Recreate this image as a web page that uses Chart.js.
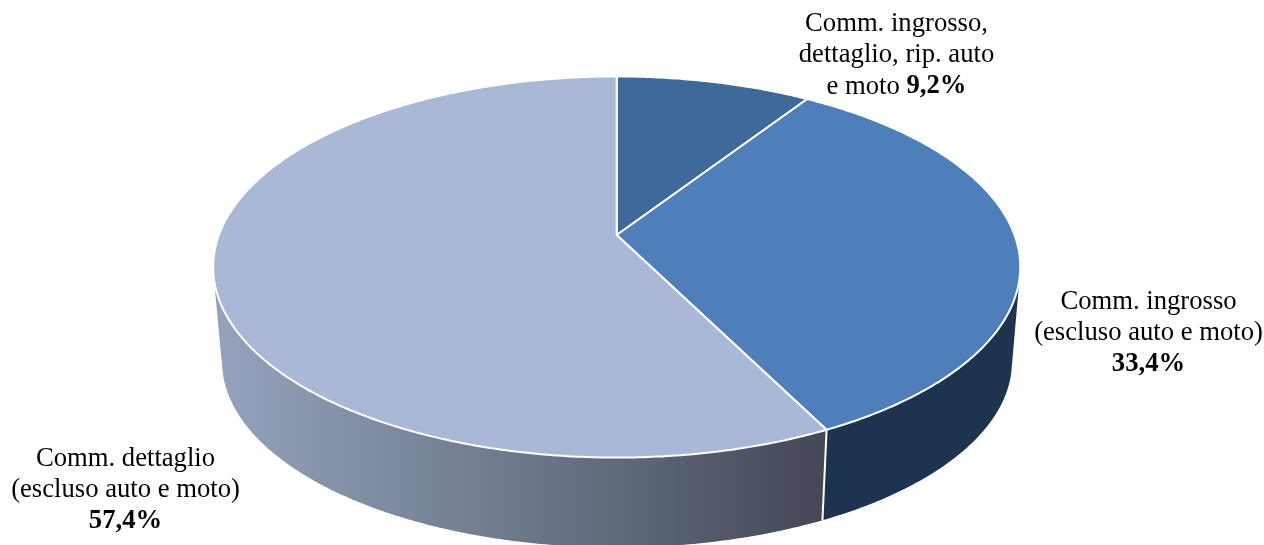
<!DOCTYPE html>
<html>
<head>
<meta charset="utf-8">
<title>Comm. ingrosso e dettaglio</title>
<script src="https://cdn.jsdelivr.net/npm/chart.js@4"></script>
<style>
  html, body { margin: 0; padding: 0; background: #fff; overflow: hidden; }
  canvas { display: block; }
</style>
</head>
<body>
<canvas id="myChart" width="1264" height="545"></canvas>
<script>
const categories = ['Comm. ingrosso, dettaglio, rip. auto e moto', 'Comm. ingrosso (escluso auto e moto)', 'Comm. dettaglio (escluso auto e moto)'];
const values = [9.2, 33.4, 57.4];
const sliceColors = ['#3f6999', '#4f7fbb', '#a9b8d7'];

// label text split in lines, the value goes in bold after the last one
const labelLines = [
  ['Comm. ingrosso,', 'dettaglio, rip. auto', 'e moto '],
  ['Comm. ingrosso', '(escluso auto e moto)', ''],
  ['Comm. dettaglio', '(escluso auto e moto)', '']
];
const labelX = [896.5, 1148.5, 125.5];
const labelY = [24, 302, 459];
const lineHeight = 31.3;

// perspective of the disc: top face and bottom face
const topFace = { cx: 616.7, cy: 235, a: 397.8, b: 185.2, p: -0.168 };
const bottomFace = { cx: 617, cy: 330, a: 389.4, b: 180.9, p: -0.168 };
const wallFrom = 13 * Math.PI / 180;
const wallTo = 167 * Math.PI / 180;

function project(face, angle) {
  const X = Math.cos(angle);
  const Y = Math.sin(angle);
  const w = 1 + face.p * Y;
  return { x: face.cx + face.a * X / w, y: face.cy + face.b * Y / w };
}

function rim(ctx, face, from, to) {
  const steps = Math.max(2, Math.ceil(Math.abs(to - from) / 0.01));
  for (let i = 0; i <= steps; i++) {
    const pt = project(face, from + (to - from) * i / steps);
    ctx.lineTo(pt.x, pt.y);
  }
}

function wallFill(ctx, index) {
  if (index === 1) return '#1e3350';
  const grad = ctx.createLinearGradient(222, 0, 824, 0);
  grad.addColorStop(0, '#94a2bb');
  grad.addColorStop(0.43, '#727d91');
  grad.addColorStop(0.68, '#5d6778');
  grad.addColorStop(1, '#444855');
  return grad;
}

function percent(v) {
  return v.toFixed(1).replace('.', ',') + '%';
}

const pie3d = {
  id: 'pie3d',
  beforeDatasetDraw(chart) {
    const ctx = chart.ctx;
    const arcs = chart.getDatasetMeta(0).data;
    ctx.save();
    ctx.lineJoin = 'round';

    // side wall, only the part of each slice that faces the viewer
    arcs.forEach((arc, i) => {
      const p = arc.getProps(['startAngle', 'endAngle'], true);
      const from = Math.max(p.startAngle, wallFrom);
      const to = Math.min(p.endAngle, wallTo);
      if (to <= from) return;
      ctx.beginPath();
      rim(ctx, topFace, from, to);
      rim(ctx, bottomFace, to, from);
      ctx.closePath();
      ctx.fillStyle = wallFill(ctx, i);
      ctx.fill();
    });

    // white edge between the two walls
    const edge = arcs[1].getProps(['endAngle'], true).endAngle;
    const e1 = project(topFace, edge);
    const e2 = project(bottomFace, edge);
    ctx.beginPath();
    ctx.moveTo(e1.x, e1.y);
    ctx.lineTo(e2.x, e2.y);
    ctx.strokeStyle = '#ffffff';
    ctx.lineWidth = 2;
    ctx.stroke();

    // top face
    arcs.forEach((arc) => {
      const p = arc.getProps(['startAngle', 'endAngle'], true);
      ctx.beginPath();
      ctx.moveTo(topFace.cx, topFace.cy);
      rim(ctx, topFace, p.startAngle, p.endAngle);
      ctx.closePath();
      ctx.fillStyle = arc.options.backgroundColor;
      ctx.fill();
      ctx.strokeStyle = arc.options.borderColor;
      ctx.lineWidth = arc.options.borderWidth;
      ctx.stroke();
    });
    ctx.restore();
    return false;
  },
  afterDraw(chart) {
    const ctx = chart.ctx;
    const normal = '26.67px "Liberation Serif"';
    const bold = 'bold 26.67px "Liberation Serif"';
    ctx.save();
    ctx.fillStyle = '#000';
    ctx.textBaseline = 'middle';
    ctx.textAlign = 'left';
    labelLines.forEach((lines, i) => {
      lines.forEach((line, j) => {
        const last = j === lines.length - 1;
        const value = last ? percent(values[i]) : '';
        ctx.font = normal;
        const w1 = ctx.measureText(line).width;
        ctx.font = bold;
        const w2 = ctx.measureText(value).width;
        const x = labelX[i] - (w1 + w2) / 2;
        const y = labelY[i] + j * lineHeight;
        ctx.font = normal;
        ctx.fillText(line, x, y);
        ctx.font = bold;
        ctx.fillText(value, x + w1, y);
      });
    });
    ctx.restore();
  }
};

new Chart(document.getElementById('myChart'), {
  type: 'pie',
  data: {
    labels: categories,
    datasets: [{
      data: values,
      backgroundColor: sliceColors,
      borderColor: '#ffffff',
      borderWidth: 2
    }]
  },
  options: {
    responsive: false,
    animation: false,
    events: [],
    plugins: {
      legend: { display: false },
      tooltip: { enabled: false }
    }
  },
  plugins: [pie3d]
});
</script>
</body>
</html>
